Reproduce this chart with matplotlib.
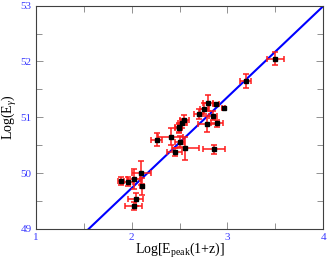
import matplotlib
matplotlib.use("Agg")
import matplotlib.pyplot as plt
import numpy as np
from matplotlib.ticker import MultipleLocator

x = [3.50, 3.19, 2.80, 2.88, 2.96, 2.76, 2.70, 2.85, 2.79, 2.89, 2.55, 2.53, 2.49, 2.49,
     2.26, 2.41, 2.50, 2.45, 2.56, 2.86, 2.10, 2.02, 1.96, 1.89, 2.11, 2.04, 2.02]
y = [52.05, 51.65, 51.26, 51.23, 51.17, 51.15, 51.06, 51.03, 50.88, 50.89, 50.95, 50.89, 50.82, 50.80,
     50.60, 50.65, 50.56, 50.38, 50.44, 50.43, 50.00, 49.90, 49.84, 49.85, 49.76, 49.53, 49.41]
xerr = [0.09, 0.06, 0.05, 0.03, 0.02, 0.05, 0.05, 0.04, 0.10, 0.06, 0.05, 0.05, 0.04, 0.04,
        0.06, 0.13, 0.05, 0.08, 0.14, 0.11, 0.10, 0.07, 0.05, 0.03, 0.02, 0.08, 0.09]
yerr = [0.12, 0.13, 0.14, 0.03, 0.02, 0.10, 0.09, 0.08, 0.14, 0.06, 0.09, 0.08, 0.08, 0.08,
        0.11, 0.15, 0.10, 0.07, 0.21, 0.08, 0.22, 0.18, 0.08, 0.07, 0.15, 0.12, 0.07]

fit_slope = 1.63
fit_intercept = 46.47
fit_x = [1.0, 4.0]

plt.rcParams['font.family'] = ['Liberation Serif', 'DejaVu Serif']
plt.rcParams['mathtext.fontset'] = 'custom'
plt.rcParams['mathtext.rm'] = 'Liberation Serif'
plt.rcParams['mathtext.it'] = 'Liberation Serif:italic'
fig = plt.figure(figsize=(3.27, 2.60), dpi=100)
ax = fig.add_axes([0.110, 0.120, 0.878, 0.858])

fx = np.array(fit_x)
ax.plot(fx, fit_slope * fx + fit_intercept, color='#0000ff', lw=1.5, zorder=2)
ax.errorbar(x, y, xerr=xerr, yerr=yerr, fmt='s', ms=2.2, color='black', mfc='black',
            ecolor='#ff1a1a', elinewidth=1.1, capsize=2, capthick=1.1, zorder=3)

ax.set_xlim(1, 4)
ax.set_ylim(49, 53)
ax.xaxis.set_major_locator(MultipleLocator(1))
ax.xaxis.set_minor_locator(MultipleLocator(0.5))
ax.yaxis.set_major_locator(MultipleLocator(1))
ax.yaxis.set_minor_locator(MultipleLocator(0.5))
ax.tick_params(which='both', direction='in', top=True, right=True, labelsize=8,
               labelcolor='#3a3aff', width=0.6, color='#808080', pad=3)
ax.tick_params(which='major', length=5)
ax.tick_params(which='minor', length=4)
for s in ax.spines.values():
    s.set_linewidth(0.8)
    s.set_color('#404040')
ax.set_xlabel(r'Log[E$_{\mathrm{peak}}$(1+z)]', fontsize=10, labelpad=-1)
ax.set_ylabel(r'Log(E$_\gamma$)', fontsize=10, labelpad=1)
fig.savefig('out.png', dpi=100)
